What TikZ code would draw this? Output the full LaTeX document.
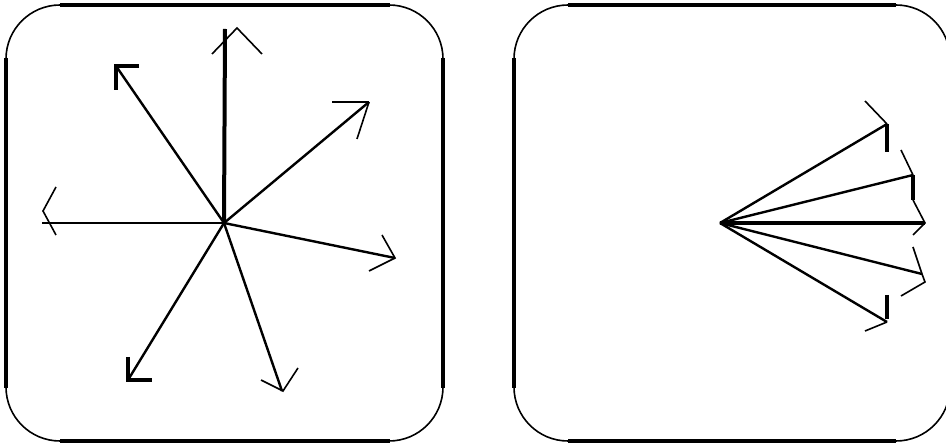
\documentclass[tikz,border=0pt]{standalone}
\begin{document}
\begin{tikzpicture}[x=1pt,y=-1pt,
  boxline/.style={line width=1.6pt, rounded corners=54pt},
  sideline/.style={line width=3.2pt},
  shaft/.style={line width=2.4pt},
  bigshaft/.style={line width=4pt},
  headline/.style={line width=1.6pt},
  bracket/.style={line width=4.2pt},
  line join=miter]
\useasboundingbox (0,0) rectangle (946,443);
% boxes
\draw[boxline] (6,5) rectangle (443,441);
\draw[sideline] (6,58) -- (6,388) (443,58) -- (443,388) (60,5) -- (390,5) (60,441) -- (390,441);
\draw[boxline] (514,5) rectangle (950,441);
\draw[sideline] (514,58) -- (514,388) (568,5) -- (896,5) (568,441) -- (896,441);
% left star
\coordinate (C) at (224,223);
\coordinate (up) at (225,29);
\coordinate (ul) at (116,66);
\coordinate (ur) at (369,102);
\coordinate (lf) at (42,223);
\coordinate (rd) at (395,258);
\coordinate (dr) at (282,391);
\coordinate (dl) at (128,380);
\draw[bigshaft] (C) -- (up);
\draw[headline] (212,54) -- (237,28) -- (262,54);
\draw[shaft] (C) -- (ul);
\draw[bracket] (139,66) -- (ul) -- (116,90);
\draw[shaft] (C) -- (ur);
\draw[line width=2.8pt] (332,102) -- (ur);
\draw[headline] (ur) -- (357,139);
\draw[line width=2.8pt] (C) -- (lf);
\draw[headline] (56,187) -- (43,211) -- (56,235);
\draw[shaft] (C) -- (rd);
\draw[headline] (382,235) -- (rd) -- (369,271);
\draw[shaft] (C) -- (dr);
\draw[headline] (298,368) -- (283,391) -- (261,380);
\draw[shaft] (C) -- (dl);
\draw[bracket] (128,357) -- (dl) -- (152,380);
% right fan
\coordinate (D) at (720,223);
\coordinate (fa) at (887,124);
\coordinate (fb) at (913,175);
\coordinate (fc) at (925,223);
\coordinate (fd) at (922,274);
\coordinate (fe) at (887,322);
\draw[shaft] (D) -- (fa);
\draw[headline] (865,101) -- (fa);
\draw[bracket] (fa) -- (887,152);
\draw[shaft] (D) -- (fb);
\draw[headline] (901,150) -- (fb);
\draw[line width=3.2pt] (fb) -- (913,200);
\draw[line width=3.2pt] (D) -- (fc);
\draw[headline] (913,200) -- (fc) -- (913,235);
\draw[shaft] (D) -- (fd);
\draw[headline] (913,247) -- (fd) -- (925,282) -- (901,296);
\draw[shaft] (D) -- (fe);
\draw[bracket] (887,295) -- (887,319);
\draw[headline] (fe) -- (865,331);
\end{tikzpicture}
\end{document}
